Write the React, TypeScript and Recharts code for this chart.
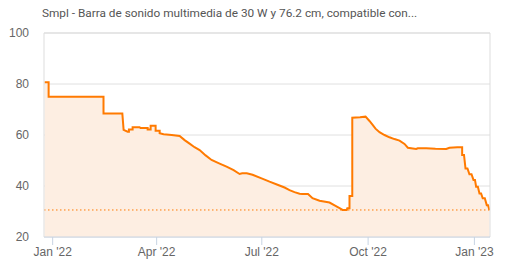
import React from 'react';
import { ComposedChart, Area, XAxis, YAxis, CartesianGrid, ReferenceLine } from 'recharts';

const TITLE = "Smpl - Barra de sonido multimedia de 30 W y 76.2 cm, compatible con...";

// days since 2022-01-01 (repeated day = vertical price step)
const days: number[] = [
  -7, -3.5, -3.5, 44, 44, 60.3, 61.4, 64.9, 66, 66, 69.2, 69.2, 75.3, 76, 82.2, 82.2,
  84.8, 84.8, 89.1, 89.1, 92.6, 92.6, 96, 103, 109.9, 114.2, 118.5, 122.8, 127.2,
  132.4, 137.5, 144.5, 150.5, 156.6, 161.8, 164, 168, 173, 180.8, 187.7, 194.6,
  200.7, 205, 209.3, 213.7, 216, 221, 224.9, 231, 239.6, 244.8, 248.3, 250.9,
  254.5, 255, 256.9, 256.9, 259.3, 259.3, 266, 270.8, 274.2, 277.1, 279.4, 282.9,
  287.2, 291.5, 295.8, 300.2, 304.5, 307.4, 314.6, 316, 323.3, 331.3, 340.6, 343.4,
  350.3, 354.4, 354.4, 356, 357.3, 359, 360.7, 362.5, 364.2, 365.5, 366.5, 368,
  369.4, 370.8, 372.2, 374, 375.7, 376.8, 378,
];
const prices: number[] = [
  80.7, 80.7, 75, 75, 68.4, 68.4, 62, 61.3, 61.3, 62.2, 62.2, 63, 63, 62.7, 62.7, 62.2,
  62.2, 63.6, 63.6, 61.7, 61.7, 60.7, 60.3, 60, 59.6, 58, 56.6, 55.2, 54.1,
  52, 50.2, 48.8, 47.6, 46.2, 44.7, 45, 45, 44.4, 43, 41.7, 40.5,
  39.4, 38.4, 37.6, 37, 36.9, 36.9, 35.2, 34.2, 33.5, 32.2, 31.3, 30.6,
  30.6, 31.3, 31.3, 36.1, 36.1, 66.8, 67, 67.2, 65.5, 63.9, 62.5, 61.1,
  60, 59.1, 58.4, 57.8, 56.5, 55, 54.5, 54.8, 54.8, 54.6, 54.5, 55,
  55.2, 55.2, 52.2, 52.2, 46.9, 46.9, 44.6, 44.6, 42.4, 42.4, 39.7, 39.7,
  37.1, 37.1, 35.2, 35.2, 32.5, 32.5, 30.6,
];
const lowestPrice = 30.6;
const xTicks: number[] = [0, 90, 181, 273, 365];
const xTickLabels: string[] = ["Jan '22", "Apr '22", "Jul '22", "Oct '22", "Jan '23"];
const yTicks: number[] = [20, 40, 60, 80, 100];

const data = days.map((d, i) => ({ day: d, price: prices[i] }));

const labelFor = (v: number) => {
  const i = xTicks.indexOf(v);
  return i >= 0 ? xTickLabels[i] : '';
};

export default function App() {
  return (
    <div style={{ position: 'absolute', left: 0, top: 0, width: 510, height: 265, background: '#fff' }}>
      <div style={{ position: 'absolute', left: 42, top: 6, fontFamily: 'Roboto, Arial, sans-serif', fontSize: 11.8, color: '#555', whiteSpace: 'nowrap' }}>
        {TITLE}
      </div>
      <ComposedChart width={510} height={265} data={data} margin={{ top: 33, right: 20, bottom: 0, left: 0 }}>
        <CartesianGrid stroke="#e0e0e0" vertical={false} />
        <XAxis
          dataKey="day"
          type="number"
          domain={[-7.5, 378.5]}
          ticks={xTicks}
          tickFormatter={labelFor}
          height={28}
          stroke="#c8d4e3"
          tickSize={8}
          tickMargin={2}
          tick={{ fill: '#666', fontSize: 12, fontFamily: 'Liberation Sans, Arial, sans-serif' }}
          allowDataOverflow
        />
        <YAxis
          type="number"
          domain={[20, 100]}
          ticks={yTicks}
          width={44}
          axisLine={{ stroke: '#dddddd' }}
          tickLine={false}
          tickSize={0}
          tickMargin={15}
          tick={{ fill: '#666', fontSize: 12, fontFamily: 'Liberation Sans, Arial, sans-serif' }}
        />
        <ReferenceLine y={100} stroke="#dddddd" />
        <ReferenceLine segment={[{ x: 378.5, y: 20 }, { x: 378.5, y: 100 }]} stroke="#dddddd" />
        <Area
          type="linear"
          dataKey="price"
          stroke="#ff7a00"
          strokeWidth={2}
          fill="#fdeee2"
          fillOpacity={1}
          baseValue={20}
          isAnimationActive={false}
          dot={false}
          activeDot={false}
        />
        <ReferenceLine y={lowestPrice} stroke="#ff7a00" strokeDasharray="1.5 2.5" strokeWidth={1} />
      </ComposedChart>
    </div>
  );
}
